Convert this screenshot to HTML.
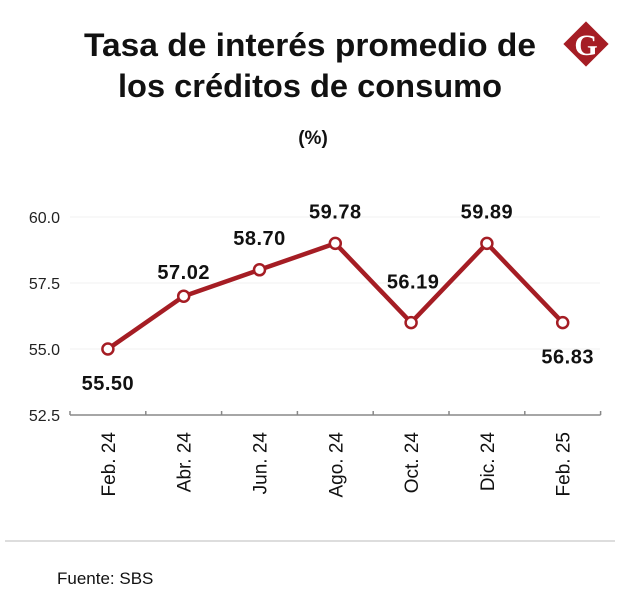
<!DOCTYPE html>
<html><head><meta charset="utf-8"><style>
body{margin:0;background:#fff;width:620px;height:615px;overflow:hidden;font-family:"Liberation Sans",sans-serif}
</style></head><body>
<svg width="620" height="615" style="position:absolute;left:0;top:0">
<g>
<rect x="570" y="28" width="32" height="32" fill="#a51d24" transform="rotate(45 586 44)"/>
<text x="586" y="55" text-anchor="middle" font-family="Liberation Serif,serif" font-weight="bold" font-size="30" fill="#fff">G</text>
</g>
<text x="310" y="56" text-anchor="middle" font-size="32" font-weight="bold" fill="#111" textLength="452" lengthAdjust="spacingAndGlyphs">Tasa de interés promedio de</text>
<text x="310" y="97" text-anchor="middle" font-size="32" font-weight="bold" fill="#111" textLength="384" lengthAdjust="spacingAndGlyphs">los créditos de consumo</text>
<text x="313" y="144" text-anchor="middle" font-size="19" font-weight="bold" fill="#111">(%)</text>
<g id="plot"></g>
<line x1="5" y1="541" x2="615" y2="541" stroke="#bbb" stroke-width="1"/>
<text x="57" y="584" font-size="17" fill="#111">Fuente: SBS</text>
</svg>
<script>
const categories=["Feb. 24","Abr. 24","Jun. 24","Ago. 24","Oct. 24","Dic. 24","Feb. 25"];
const plotted=[55.0,57.0,58.0,59.0,56.0,59.0,56.0];
const labels=["55.50","57.02","58.70","59.78","56.19","59.89","56.83"];
const labelAbove=[false,true,true,true,true,true,false];
const yTicks=[52.5,55.0,57.5,60.0];
const NS="http://www.w3.org/2000/svg";
const g=document.getElementById('plot');
const x0=70,bw=75.8,yMin=52.5,yMax=60,yb=415,yt=217;
const X=i=>x0+bw*(i+0.5);
const Y=v=>yb-(v-yMin)/(yMax-yMin)*(yb-yt);
function mk(t,a){const e=document.createElementNS(NS,t);for(const k in a)e.setAttribute(k,a[k]);g.appendChild(e);return e;}
yTicks.forEach(v=>{
 if(v>yMin){const l=mk('line',{x1:x0,x2:600,y1:Y(v),y2:Y(v),stroke:'#f2f2f2'});
 
 }
 const t=mk('text',{x:60,y:Y(v)+6,'text-anchor':'end','font-size':16,fill:'#222'});
 t.textContent=v.toFixed(1);
 
 
});
const ax=mk('line',{x1:x0,x2:x0+bw*categories.length,y1:yb,y2:yb,stroke:'#888','stroke-width':1.5});


for(let i=0;i<=categories.length;i++){const tk=mk('line',{x1:x0+bw*i,x2:x0+bw*i,y1:yb-4,y2:yb,stroke:'#888','stroke-width':1.5});
 
 }
categories.forEach((c,i)=>{
 const t=mk('text',{x:X(i)+7,y:432,'text-anchor':'end','font-size':19,fill:'#111',transform:`rotate(-90 ${X(i)+7} 432)`});
 t.textContent=c;
 
 
});
const ln=mk('polyline',{points:plotted.map((v,i)=>X(i)+','+Y(v)).join(' '),fill:'none',stroke:'#a51d24','stroke-width':4.5,'stroke-linejoin':'round'});


plotted.forEach((v,i)=>{
 const c=mk('circle',{cx:X(i),cy:Y(v),r:5.5,fill:'#fff',stroke:'#a51d24','stroke-width':2.5});
 
 
 const dy=labelAbove[i]?(i===1?-17:(i===4?-34:-25)):41;
 const dx=i===6?5:(i===4?2:0);
 const t=mk('text',{x:X(i)+dx,y:Y(v)+dy,'text-anchor':'middle','font-size':20,'font-weight':'bold',fill:'#111','letter-spacing':'0.5'});
 t.textContent=labels[i];
 
 
});
</script>
</body></html>
